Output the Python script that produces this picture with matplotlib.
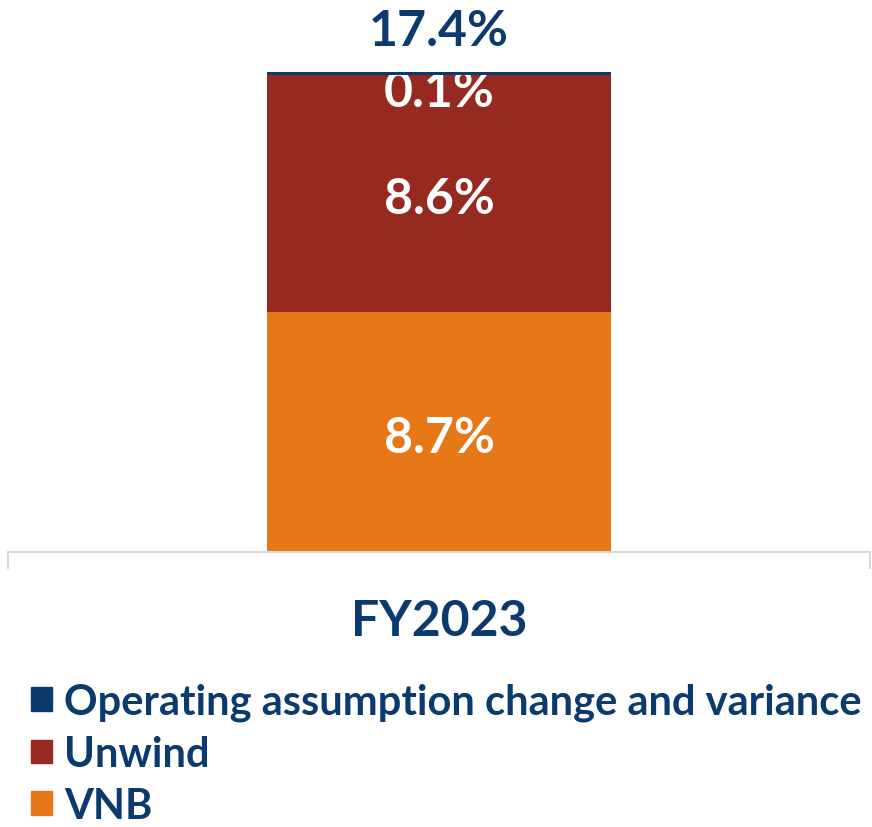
import matplotlib.pyplot as plt
from matplotlib.patches import Patch

# data
category = ["FY2023"]
vnb = [8.7]
unwind = [8.6]
op_change = [0.1]
total = [17.4]

navy = "#0b3a6e"
red = "#962a20"
orange = "#e67818"

plt.rcParams['font.family'] = ['Lato', 'DejaVu Sans']
plt.rcParams['font.weight'] = 'bold'

fig = plt.figure(figsize=(8.72, 8.28), dpi=100)
ax = fig.add_axes([8/872, 275/828, 862/872, 553/828])

x = [0]
ax.bar(x, vnb, width=0.4, color=orange)
ax.bar(x, unwind, width=0.4, bottom=vnb, color=red)
bottom2 = [a + b for a, b in zip(vnb, unwind)]

big = 36
for i in range(len(x)):
    ax.annotate(f"{vnb[i]}%", (x[i], vnb[i] / 2), xytext=(0, -4),
                textcoords='offset points', ha='center', va='center',
                color='white', fontsize=big, fontweight='bold')
    ax.annotate(f"{unwind[i]}%", (x[i], vnb[i] + unwind[i] / 2), xytext=(0, -4),
                textcoords='offset points', ha='center', va='center',
                color='white', fontsize=big, fontweight='bold')
    ax.annotate(f"{op_change[i]}%", (x[i], bottom2[i] + op_change[i] / 2),
                xytext=(0, -13), textcoords='offset points', ha='center', va='center',
                color='white', fontsize=big, fontweight='bold')
    ax.annotate(f"{total[i]}%", (x[i], total[i]), xytext=(0, 30),
                textcoords='offset points', ha='center', va='center',
                color=navy, fontsize=big, fontweight='bold')

# navy segment drawn over the 0.1% label like the original
ax.bar(x, op_change, width=0.4, bottom=bottom2, color=navy, zorder=5)

ax.set_xlim(-0.5, 0.5)
ax.set_ylim(0, 20.04)
for s in ['top', 'right', 'left']:
    ax.spines[s].set_visible(False)
ax.spines['bottom'].set_color('#d9d9d9')
ax.spines['bottom'].set_linewidth(1.5)
ax.set_yticks([])
ax.set_xticks(x)
ax.set_xticklabels(category, fontsize=big, fontweight='bold', color=navy)
ax.tick_params(axis='x', which='major', length=0, pad=33)
ax.set_xticks([-0.5, 0.5], minor=True)
ax.tick_params(axis='x', which='minor', length=12, width=1.5, color='#d9d9d9')

handles = [Patch(color=navy, label="Operating assumption change and variance"),
           Patch(color=red, label="Unwind"),
           Patch(color=orange, label="VNB")]
fig.legend(handles=handles, loc='upper left', bbox_to_anchor=(31/872, 1 - 684/828),
           frameon=False, handlelength=0.5, handleheight=0.5,
           handletextpad=0.3, labelspacing=0.33, labelcolor=navy,
           borderpad=0, borderaxespad=0,
           prop={'weight': 'bold', 'size': 30})

fig.savefig("out.png", dpi=100)
